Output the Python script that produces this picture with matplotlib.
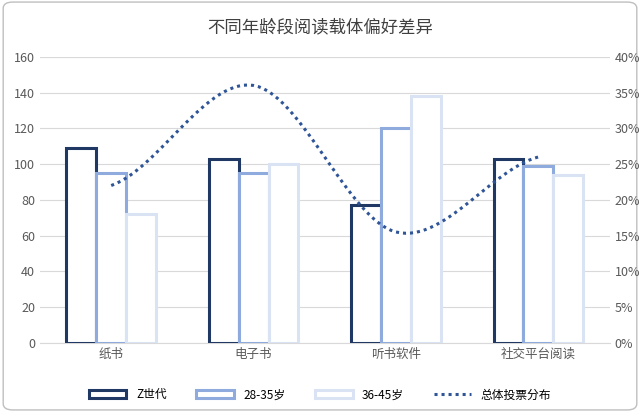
import numpy as np
import matplotlib
matplotlib.use("Agg")
import matplotlib.pyplot as plt
from matplotlib.patches import FancyBboxPatch

plt.rcParams['font.family'] = ['Noto Sans CJK SC', 'DejaVu Sans']

categories = ["纸书", "电子书", "听书软件", "社交平台阅读"]
gen_z = [109, 103, 77, 103]
age_28_35 = [95, 95, 120, 99]
age_36_45 = [72, 100, 138, 94]
vote_share = [22.0, 36.0, 15.5, 26.0]   # percent

colors = ["#203864", "#8FAADC", "#DAE3F3"]
names = ["Z世代", "28-35岁", "36-45岁"]

fig = plt.figure(figsize=(6.4, 4.12), dpi=100)
fig.add_artist(FancyBboxPatch((0.005, 0.005), 0.99, 0.99, boxstyle="round,pad=0,rounding_size=0.015",
                              transform=fig.transFigure, fc="white", ec="#BFBFBF", lw=1,
                              zorder=-10))
ax = fig.add_axes([0.0625, 0.168, 0.89, 0.694])
ax.patch.set_alpha(0)
x = np.arange(len(categories))
w = 0.21
for i, (vals, c, n) in enumerate(zip([gen_z, age_28_35, age_36_45], colors, names)):
    ax.bar(x + (i - 1) * w, vals, w, facecolor="white", edgecolor=c, lw=2.2, label=n, zorder=3)
ax.set_ylim(0, 160)
ax.set_yticks(range(0, 161, 20))
ax.set_xlim(-0.5, 3.5)
ax.set_xticks(x, categories)
ax.grid(axis="y", color="#D9D9D9", lw=0.8, zorder=0)
for s in ax.spines.values():
    s.set_visible(False)
ax.spines["bottom"].set_visible(True)
ax.spines["bottom"].set_color("#D9D9D9")
ax.tick_params(length=0, labelsize=9, colors="#595959")

ax2 = ax.twinx()
# smooth curve through the points (Catmull-Rom, like Excel smoothed line)
p = np.array(vote_share)
pts = np.concatenate([[p[0]], p, [p[-1]]])
xs, ys = [], []
for k in range(len(p) - 1):
    p0, p1, p2, p3 = pts[k:k + 4]
    t = np.linspace(0, 1, 30)
    ys.extend(0.5 * (2 * p1 + (-p0 + p2) * t + (2 * p0 - 5 * p1 + 4 * p2 - p3) * t**2
                     + (-p0 + 3 * p1 - 3 * p2 + p3) * t**3))
    xs.extend(k + t)
ax2.plot(xs, ys, color="#2F5597", lw=2.2, ls=(0, (1, 1.3)), label="总体投票分布", zorder=4)
ax2.set_ylim(0, 40)
ax2.set_yticks(range(0, 41, 5))
ax2.set_yticklabels([f"{v}%" for v in range(0, 41, 5)])
for s in ax2.spines.values():
    s.set_visible(False)
ax2.tick_params(length=0, labelsize=9, colors="#595959")

fig.suptitle("不同年龄段阅读载体偏好差异", y=0.955, fontsize=12.5, color="#404040")
h1, l1 = ax.get_legend_handles_labels()
h2, l2 = ax2.get_legend_handles_labels()
fig.legend(h1 + h2, l1 + l2, loc="lower center", ncol=4, frameon=False, fontsize=8.5,
           bbox_to_anchor=(0.5, 0.0), handlelength=3.2, columnspacing=2.5)
fig.savefig("out.png")
